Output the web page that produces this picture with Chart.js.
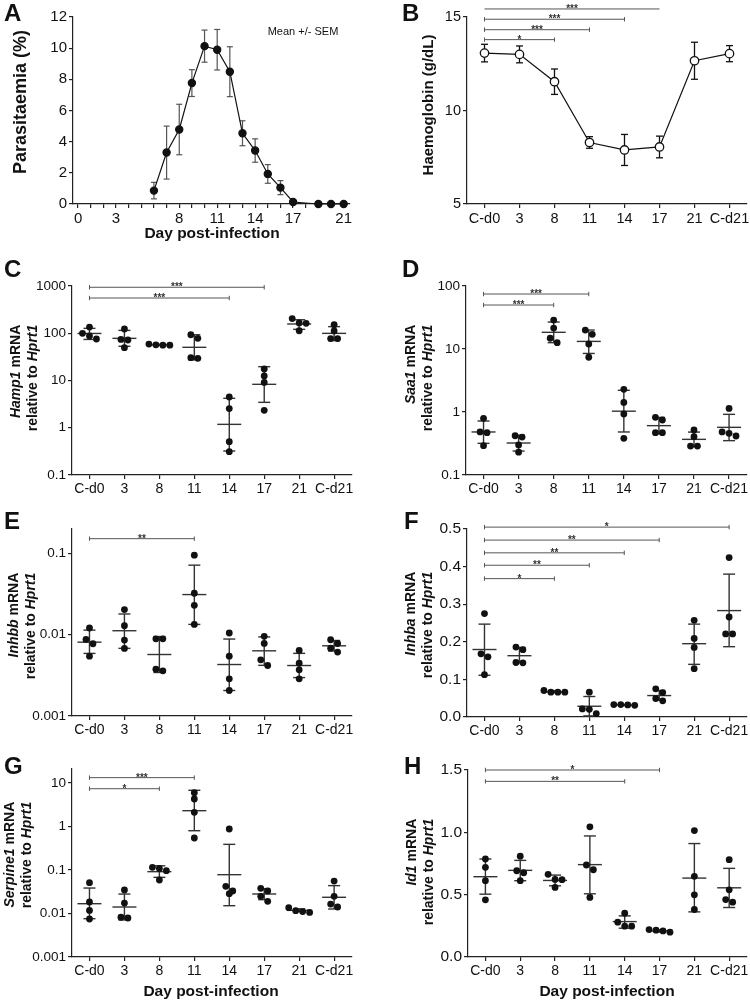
<!DOCTYPE html>
<html>
<head>
<meta charset="utf-8">
<script src="https://cdn.jsdelivr.net/npm/chart.js@4.4.1/dist/chart.umd.min.js"></script>
<style>
  body { margin: 0; background: #fff; }
  #fig { position: relative; width: 750px; height: 1001px; background: #fff; overflow: hidden;
         font-family: "Liberation Sans", Arial, Helvetica, sans-serif; color: #111; }
  #fig canvas { position: absolute; }
  .lbl { position: absolute; font-weight: bold; font-size: 24px; line-height: 24px; }
  .ytitle { position: absolute; font-weight: bold; white-space: nowrap; text-align: right;
            transform: translate(-50%, -50%) rotate(-90deg); }
  .xtitle { position: absolute; font-weight: bold; font-size: 15.5px; white-space: nowrap;
            transform: translate(-50%, -50%); }
</style>
</head>
<body>
<div id="fig">
  <div class="lbl" style="left:4px;top:1px">A</div>
  <div class="lbl" style="left:402px;top:1px">B</div>
  <div class="lbl" style="left:4px;top:257px">C</div>
  <div class="lbl" style="left:402px;top:257px">D</div>
  <div class="lbl" style="left:4px;top:509px">E</div>
  <div class="lbl" style="left:404px;top:509px">F</div>
  <div class="lbl" style="left:4px;top:754px">G</div>
  <div class="lbl" style="left:404px;top:754px">H</div>

  <div class="ytitle" style="left:20px;top:102px;font-size:18px">Parasitaemia (%)</div>
  <div class="ytitle" style="left:427px;top:105px;font-size:15px">Haemoglobin (g/dL)</div>
  <div class="ytitle" style="left:24px;top:378px;font-size:14px;line-height:17px"><i>Hamp1</i> mRNA<br>relative to <i>Hprt1</i></div>
  <div class="ytitle" style="left:419px;top:378px;font-size:14px;line-height:17px"><i>Saa1</i> mRNA<br>relative to <i>Hprt1</i></div>
  <div class="ytitle" style="left:22px;top:626px;font-size:14px;line-height:17px"><i>Inhbb</i> mRNA<br>relative to <i>Hprt1</i></div>
  <div class="ytitle" style="left:419px;top:625px;font-size:14px;line-height:17px"><i>Inhba</i> mRNA<br>relative to <i>Hprt1</i></div>
  <div class="ytitle" style="left:18px;top:855px;font-size:14px;line-height:17px"><i>Serpine1</i> mRNA<br>relative to <i>Hprt1</i></div>
  <div class="ytitle" style="left:420px;top:872px;font-size:14px;line-height:17px"><i>Id1</i> mRNA<br>relative to <i>Hprt1</i></div>

  <div class="xtitle" style="left:212px;top:233px">Day post-infection</div>
  <div class="xtitle" style="left:211px;top:991px">Day post-infection</div>
  <div class="xtitle" style="left:607px;top:991px">Day post-infection</div>
  <div style="position:absolute;left:303px;top:31px;transform:translate(-50%,-50%);font-size:11px;white-space:nowrap">Mean +/- SEM</div>
</div>
<script>
// ---- data ----
const cats = ['C-d0', '3', '8', '11', '14', '17', '21', 'C-d21'];

// A: parasitaemia, mean +/- SEM
const aDays = [6, 7, 8, 9, 10, 11, 12, 13, 14, 15, 16, 17, 19, 20, 21];
const aMean = [0.86, 3.3, 4.78, 7.76, 10.13, 9.9, 8.49, 4.54, 3.43, 1.93, 1.05, 0.13, 0, 0, 0];
const aSem = [0.53, 1.7, 1.62, 0.86, 1.03, 1.3, 1.6, 0.8, 0.75, 0.6, 0.45, 0, 0, 0, 0];
const aTickDays = [0, 1, 2, 3, 4, 5, 6, 7, 8, 9, 10, 11, 12, 13, 14, 15, 16, 17, 18, 19, 20, 21];
const aLabelDays = [0, 3, 8, 11, 14, 17, 21];
const aYTicks = [0, 2, 4, 6, 8, 10, 12];

// B: haemoglobin, mean +/- SEM
const bMean = [13.07, 13.0, 11.54, 8.29, 7.89, 8.05, 12.66, 13.04];
const bSem = [0.47, 0.45, 0.68, 0.31, 0.83, 0.58, 0.99, 0.43];
const bYTicks = [5, 10, 15];
const bSigTo = [5, 4, 3, 2];
const bSigY = [15.43, 14.88, 14.32, 13.79];
const bSigText = ['***', '***', '***', '*'];

// C: Hamp1
const cPts = [[135, 99.5, 87.5, 75.5], [123, 74, 72, 49.5], [57, 56, 56, 59], [93, 78, 29.4, 30.4],
              [4.48, 2.54, 0.507, 0.312], [17.5, 12.5, 9.1, 2.34], [204, 162, 165, 113], [152, 112, 77, 77]];
const cMean = [99, 78, 57, 50.4, 1.18, 8.3, 157, 99.5];
const cLo = [74, 53, 55.5, 27.3, 0.322, 3.45, 121, 69.7];
const cHi = [127, 115, 58.5, 93, 4.2, 19.6, 193, 138];
const cTicks = [0.1, 1, 10, 100, 1000];
const cTickLabels = ['0.1', '1', '10', '100', '1000'];
const cSigTo = [5, 4];
const cSigY = [940, 557];
const cSigText = ['***', '***'];

// D: Saa1
const dPts = [[0.794, 0.482, 0.47, 0.292], [0.42, 0.40, 0.30, 0.23], [28.8, 21.5, 14.8, 12.6], [20, 17.1, 12, 7.4],
              [2.29, 1.42, 0.93, 0.382], [0.822, 0.746, 0.47, 0.47], [0.518, 0.406, 0.288, 0.288], [1.14, 0.482, 0.458, 0.416]];
const dMean = [0.482, 0.322, 18.4, 13.2, 1.03, 0.607, 0.368, 0.571];
const dLo = [0.318, 0.24, 12.6, 8.5, 0.482, 0.45, 0.282, 0.351];
const dHi = [0.72, 0.427, 26.8, 20, 2.21, 0.82, 0.48, 0.918];
const dTicks = [0.1, 1, 10, 100];
const dTickLabels = ['0.1', '1', '10', '100'];
const dSigTo = [3, 2];
const dSigY = [74.6, 49.9];
const dSigText = ['***', '***'];

// E: Inhbb
const ePts = [[0.0121, 0.00875, 0.00774, 0.00545], [0.0204, 0.0129, 0.0086, 0.00678], [0.0089, 0.0089, 0.0036, 0.00377],
              [0.0954, 0.0324, 0.023, 0.0134], [0.0105, 0.00545, 0.00287, 0.00206], [0.00955, 0.00782, 0.00491, 0.00418],
              [0.00641, 0.00447, 0.0037, 0.00287], [0.00867, 0.0078, 0.00684, 0.00611]];
const eMean = [0.0081, 0.0112, 0.00571, 0.0312, 0.0043, 0.00634, 0.00418, 0.00731];
const eLo = [0.00589, 0.0068, 0.00343, 0.0134, 0.00206, 0.0042, 0.00297, 0.0063];
const eHi = [0.0114, 0.018, 0.0095, 0.0718, 0.00885, 0.0094, 0.0059, 0.0085];
const eTicks = [0.001, 0.01, 0.1];
const eTickLabels = ['0.001', '0.01', '0.1'];
const eSigTo = [3];
const eSigY = [0.152];
const eSigText = ['**'];

// F: Inhba
const fPts = [[0.275, 0.168, 0.16, 0.1125], [0.186, 0.179, 0.144, 0.145], [0.066, 0.066, 0.066, 0.0705],
              [0.066, 0.0214, 0.0205, 0.009], [0.033, 0.031, 0.032, 0.033], [0.075, 0.065, 0.049, 0.043],
              [0.257, 0.209, 0.185, 0.1286], [0.424, 0.266, 0.221, 0.221]];
const fMean = [0.1795, 0.163, 0.067, 0.0286, 0.032, 0.057, 0.195, 0.283];
const fLo = [0.111, 0.144, 0.065, 0.003, 0.031, 0.0446, 0.14, 0.187];
const fHi = [0.247, 0.185, 0.07, 0.0545, 0.033, 0.0705, 0.247, 0.38];
const fTicks = [0, 0.1, 0.2, 0.3, 0.4, 0.5];
const fTickLabels = ['0.0', '0.1', '0.2', '0.3', '0.4', '0.5'];
const fSigTo = [7, 5, 4, 3, 2];
const fSigY = [0.505, 0.4705, 0.4366, 0.4036, 0.368];
const fSigText = ['*', '**', '**', '**', '*'];

// G: Serpine1
const gPts = [[0.0512, 0.0184, 0.0118, 0.00748], [0.0347, 0.0174, 0.00788, 0.0082], [0.109, 0.115, 0.0966, 0.0589],
              [6.0, 4.29, 2.12, 0.544], [0.876, 0.0421, 0.0286, 0.0329], [0.0379, 0.0329, 0.0248, 0.0191],
              [0.0116, 0.0106, 0.0111, 0.0136], [0.0558, 0.0248, 0.0165, 0.0141]];
const gMean = [0.0168, 0.0141, 0.0916, 2.31, 0.0781, 0.0281, 0.0118, 0.0236];
const gLo = [0.0076, 0.0071, 0.0678, 0.80, 0.0151, 0.0208, 0.0111, 0.0127];
const gHi = [0.0385, 0.028, 0.125, 6.8, 0.389, 0.0373, 0.0128, 0.0437];
const gTicks = [0.001, 0.01, 0.1, 1, 10];
const gTickLabels = ['0.001', '0.01', '0.1', '1', '10'];
const gSigTo = [3, 2];
const gSigY = [13.3, 7.4];
const gSigText = ['***', '*'];

// H: Id1
const hPts = [[0.786, 0.719, 0.612, 0.459], [0.808, 0.692, 0.676, 0.612], [0.622, 0.62, 0.663, 0.558],
              [1.044, 0.738, 0.700, 0.478], [0.351, 0.279, 0.247, 0.247], [0.215, 0.199, 0.209, 0.22],
              [1.014, 0.647, 0.499, 0.381], [0.781, 0.539, 0.461, 0.44]];
const hMean = [0.644, 0.695, 0.614, 0.741, 0.284, 0.209, 0.633, 0.555];
const hLo = [0.504, 0.612, 0.571, 0.507, 0.231, 0.2, 0.362, 0.397];
const hHi = [0.786, 0.775, 0.657, 0.971, 0.33, 0.218, 0.91, 0.711];
const hTicks = [0, 0.5, 1, 1.5];
const hTickLabels = ['0.0', '0.5', '1.0', '1.5'];
const hSigTo = [5, 4];
const hSigY = [1.5, 1.409];
const hSigText = ['*', '**'];

// ---- drawing ----
const FONT = '"Liberation Sans", Arial, Helvetica, sans-serif';
const PAD_L = 70, PAD_T = 30, PAD_R = 12, PAD_B = 30;
const fig = document.getElementById('fig');

function makeCanvas(area) {
  const c = document.createElement('canvas');
  const w = area.r - area.l + PAD_L + PAD_R, h = area.b - area.t + PAD_T + PAD_B;
  c.width = w; c.height = h;
  c.style.left = (area.l - PAD_L) + 'px';
  c.style.top = (area.t - PAD_T) + 'px';
  c.style.width = w + 'px'; c.style.height = h + 'px';
  fig.insertBefore(c, fig.firstChild);
  return c;
}

function axis(fontSize) {
  return {
    bounds: 'data',
    grid: { display: true, drawOnChartArea: false, drawTicks: true, tickLength: 4, color: '#222', lineWidth: 1.2 },
    border: { display: true, color: '#222', width: 1.2 },
    ticks: { color: '#111', font: { family: FONT, size: fontSize }, padding: 2, maxRotation: 0, autoSkip: false }
  };
}

function starsPlugin(sigTo, sigY, sigText) {
  return {
    id: 'stars',
    afterDatasetsDraw(chart) {
      const xs = chart.scales.x, ys = chart.scales.y, ctx = chart.ctx;
      ctx.save();
      ctx.fillStyle = '#333';
      ctx.font = 'bold 10px ' + FONT;
      ctx.textAlign = 'center';
      sigTo.forEach((t, k) => {
        const px = (xs.getPixelForValue(0) + xs.getPixelForValue(t)) / 2;
        ctx.fillText(sigText[k], px, ys.getPixelForValue(sigY[k]) + 3);
      });
      ctx.restore();
    }
  };
}

function sigDataset(sigTo, sigY) {
  const data = [];
  sigTo.forEach((t, k) => { data.push({ x: 0, y: sigY[k] }, { x: t, y: sigY[k] }, { x: t, y: null }); });
  return { data, showLine: true, borderColor: '#555', borderWidth: 1, pointStyle: 'line', pointRotation: 90,
           pointRadius: 2.2, pointBorderColor: '#555', pointBorderWidth: 1, clip: false, spanGaps: false };
}

function stems(xs, lo, hi) {
  const data = [];
  xs.forEach((x, i) => { data.push({ x, y: lo[i] }, { x, y: hi[i] }, { x, y: null }); });
  return data;
}

// spread overlapping dots of a group into centred rows
function jitter(groups, toFrac, plotH, catW) {
  const out = [];
  groups.forEach((vals, i) => {
    const pts = vals.map(v => ({ v, py: toFrac(v) * plotH })).sort((a, b) => b.py - a.py);
    const rows = [];
    let row = [];
    pts.forEach(p => {
      if (row.length && Math.abs(row[0].py - p.py) < 6) row.push(p);
      else { if (row.length) rows.push(row); row = [p]; }
    });
    rows.push(row);
    rows.forEach(r => r.forEach((p, k) => out.push({ x: i + (k - (r.length - 1) / 2) * 7 / catW, y: p.v })));
  });
  return out;
}

function catX(fontSize) {
  const ax = axis(fontSize);
  ax.type = 'linear'; ax.min = -0.5; ax.max = 7.5;
  ax.afterBuildTicks = s => { s.ticks = cats.map((c, i) => ({ value: i })); };
  ax.ticks.callback = v => cats[Math.round(v)];
  ax.afterFit = s => { s.height = PAD_B; };
  return ax;
}

function valY(type, min, max, ticks, labels, fontSize) {
  const ax = axis(fontSize);
  ax.type = type; ax.min = min; ax.max = max;
  ax.afterBuildTicks = s => { s.ticks = ticks.map(v => ({ value: v })); };
  ax.ticks.callback = (v, i) => labels[i];
  ax.afterFit = s => { s.width = PAD_L; };
  return ax;
}

function baseOptions(x, y) {
  return {
    responsive: false, animation: false, devicePixelRatio: 1, events: [],
    layout: { padding: { top: PAD_T, right: PAD_R, left: 0, bottom: 0 } },
    plugins: { legend: { display: false }, tooltip: { enabled: false } },
    scales: { x, y }
  };
}

// Panel A
(function () {
  const area = { l: 73, r: 350, t: 17, b: 204 };
  const withErr = aDays.map((d, i) => i).filter(i => aSem[i] > 0);
  const x = axis(15);
  x.type = 'linear'; x.min = -0.4; x.max = 21.5;
  x.afterBuildTicks = s => { s.ticks = aTickDays.map(v => ({ value: v })); };
  x.ticks.callback = v => aLabelDays.includes(v) ? String(v) : '';
  x.afterFit = s => { s.height = PAD_B; };
  const y = valY('linear', 0, 12, aYTicks, aYTicks.map(String), 15);
  new Chart(makeCanvas(area), {
    type: 'scatter',
    data: { datasets: [
      { data: aDays.map((d, i) => ({ x: d, y: aMean[i] })), showLine: true, borderColor: '#111', borderWidth: 1.2,
        pointRadius: 3.6, pointBackgroundColor: '#111', pointBorderColor: '#111', clip: false },
      { data: withErr.flatMap(i => [{ x: aDays[i], y: aMean[i] - aSem[i] }, { x: aDays[i], y: aMean[i] + aSem[i] }]),
        pointStyle: 'line', pointRadius: 3, pointBorderColor: '#555', pointBorderWidth: 1.2, clip: false },
      { data: stems(withErr.map(i => aDays[i]), withErr.map(i => aMean[i] - aSem[i]), withErr.map(i => aMean[i] + aSem[i])),
        showLine: true, pointRadius: 0, borderColor: '#555', borderWidth: 1.2, spanGaps: false, clip: false }
    ] },
    options: baseOptions(x, y)
  });
})();

// Panel B
(function () {
  const area = { l: 467, r: 747, t: 17, b: 204 };
  const idx = cats.map((c, i) => i);
  const lo = bMean.map((m, i) => m - bSem[i]), hi = bMean.map((m, i) => m + bSem[i]);
  new Chart(makeCanvas(area), {
    type: 'scatter',
    data: { datasets: [
      { data: idx.map(i => ({ x: i, y: bMean[i] })), showLine: true, borderColor: '#111', borderWidth: 1.2,
        pointRadius: 4.2, pointBackgroundColor: '#fff', pointBorderColor: '#111', pointBorderWidth: 1.3, clip: false },
      { data: idx.flatMap(i => [{ x: i, y: lo[i] }, { x: i, y: hi[i] }]), pointStyle: 'line', pointRadius: 3.5,
        pointBorderColor: '#111', pointBorderWidth: 1.3, clip: false },
      { data: stems(idx, lo, hi), showLine: true, pointRadius: 0, borderColor: '#111', borderWidth: 1.3, spanGaps: false, clip: false },
      sigDataset(bSigTo, bSigY)
    ] },
    options: baseOptions(catX(14.5), valY('linear', 5, 15, bYTicks, bYTicks.map(String), 14.5)),
    plugins: [starsPlugin(bSigTo, bSigY, bSigText)]
  });
})();

// Panels C-H: dot plots with mean and SD
function dotPanel(p) {
  const plotH = p.area.b - p.area.t, catW = (p.area.r - p.area.l) / cats.length;
  const toFrac = p.type === 'logarithmic'
    ? v => (Math.log10(v) - Math.log10(p.min)) / (Math.log10(p.max) - Math.log10(p.min))
    : v => (v - p.min) / (p.max - p.min);
  const idx = cats.map((c, i) => i);
  new Chart(makeCanvas(p.area), {
    type: 'scatter',
    data: { datasets: [
      { data: jitter(p.pts, toFrac, plotH, catW), pointRadius: 3.4, pointBackgroundColor: '#111',
        pointBorderColor: '#111', pointBorderWidth: 0, clip: false },
      { data: idx.map(i => ({ x: i, y: p.mean[i] })), pointStyle: 'line', pointRadius: 12,
        pointBorderColor: '#333', pointBorderWidth: 1.4, clip: false },
      { data: idx.flatMap(i => [{ x: i, y: p.lo[i] }, { x: i, y: p.hi[i] }]), pointStyle: 'line', pointRadius: 6,
        pointBorderColor: '#333', pointBorderWidth: 1.4, clip: false },
      { data: stems(idx, p.lo, p.hi), showLine: true, pointRadius: 0, borderColor: '#333', borderWidth: 1.4,
        spanGaps: false, clip: false },
      sigDataset(p.sigTo, p.sigY)
    ] },
    options: baseOptions(catX(14), valY(p.type, p.min, p.max, p.ticks, p.labels, p.yFont)),
    plugins: [starsPlugin(p.sigTo, p.sigY, p.sigText)]
  });
}

dotPanel({ area: { l: 72, r: 353, t: 286, b: 475 }, type: 'logarithmic', min: 0.1, max: 1000, ticks: cTicks, labels: cTickLabels,
           pts: cPts, mean: cMean, lo: cLo, hi: cHi, sigTo: cSigTo, sigY: cSigY, sigText: cSigText, yFont: 13.5 });
dotPanel({ area: { l: 466, r: 748, t: 286, b: 475 }, type: 'logarithmic', min: 0.1, max: 100, ticks: dTicks, labels: dTickLabels,
           pts: dPts, mean: dMean, lo: dLo, hi: dHi, sigTo: dSigTo, sigY: dSigY, sigText: dSigText, yFont: 13.5 });
dotPanel({ area: { l: 72, r: 353, t: 529, b: 716 }, type: 'logarithmic', min: 0.001, max: 0.2, ticks: eTicks, labels: eTickLabels,
           pts: ePts, mean: eMean, lo: eLo, hi: eHi, sigTo: eSigTo, sigY: eSigY, sigText: eSigText, yFont: 13.5 });
dotPanel({ area: { l: 467, r: 748, t: 529, b: 717 }, type: 'linear', min: 0, max: 0.5, ticks: fTicks, labels: fTickLabels,
           pts: fPts, mean: fMean, lo: fLo, hi: fHi, sigTo: fSigTo, sigY: fSigY, sigText: fSigText, yFont: 15.5 });
dotPanel({ area: { l: 72, r: 353, t: 769, b: 957 }, type: 'logarithmic', min: 0.001, max: 21, ticks: gTicks, labels: gTickLabels,
           pts: gPts, mean: gMean, lo: gLo, hi: gHi, sigTo: gSigTo, sigY: gSigY, sigText: gSigText, yFont: 13.5 });
dotPanel({ area: { l: 468, r: 748, t: 770, b: 957 }, type: 'linear', min: 0, max: 1.5, ticks: hTicks, labels: hTickLabels,
           pts: hPts, mean: hMean, lo: hLo, hi: hHi, sigTo: hSigTo, sigY: hSigY, sigText: hSigText, yFont: 15.5 });
</script>
</body>
</html>
